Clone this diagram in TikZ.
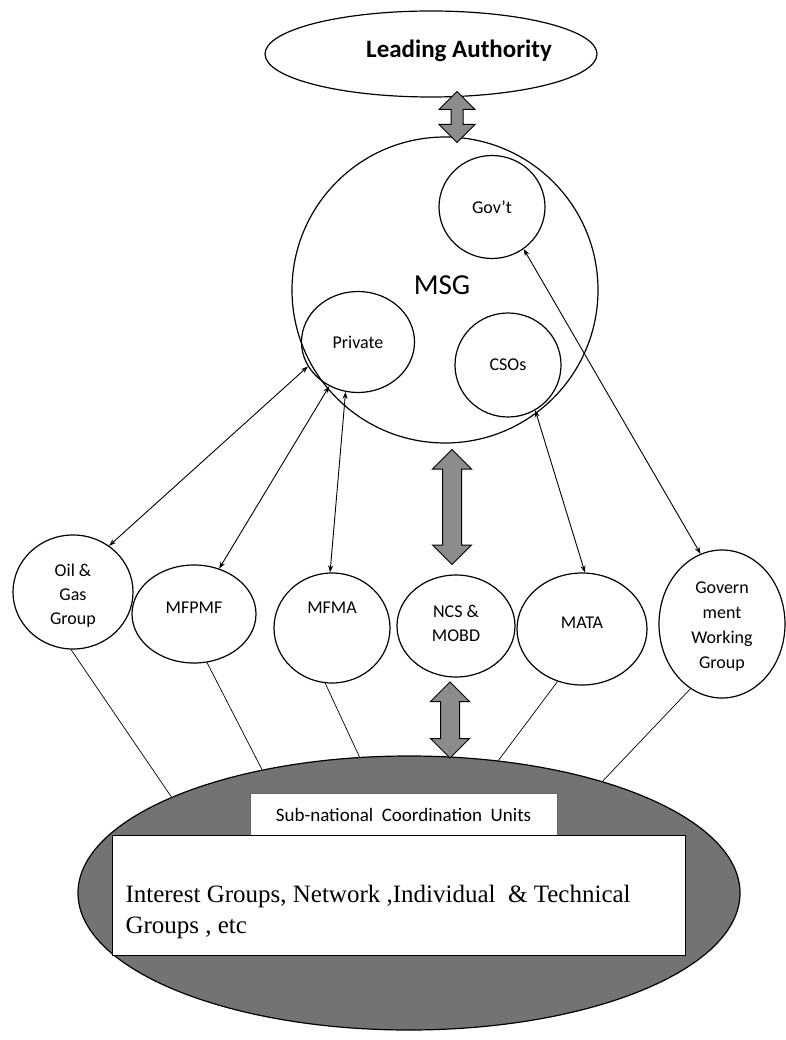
\documentclass[tikz,border=0pt]{standalone}
\usepackage{fontspec}
\setmainfont{Carlito}
\newfontfamily\bodyserif{Liberation Serif}
\usetikzlibrary{shapes.geometric,shapes.arrows,arrows.meta}

\begin{document}
\begin{tikzpicture}[x=1pt,y=-1pt,
    unit/.style={draw,ellipse,line width=1.2pt,inner sep=0pt},
    lbl/.style={font=\fontsize{18}{24}\selectfont,align=center},
    link/.style={{Stealth[length=7pt,width=5pt]}-{Stealth[length=7pt,width=5pt]},line width=0.9pt},
    feed/.style={line width=0.7pt},
    bigarrow/.style={double arrow,draw,line width=1pt,fill=black!45,rotate=90,inner sep=9pt,double arrow head extend=10pt}]
  \useasboundingbox (0,0) rectangle (786,1040);

  % leading authority
  \node[unit,minimum width=332,minimum height=86,label={[font=\bfseries\fontsize{25}{30}\selectfont,xshift=28pt,yshift=3pt]center:Leading Authority}] (lead) at (431,54) {};

  % MSG and its members
  \node[unit,circle,minimum size=306] (msg) at (445,290) {};
  \node[font=\fontsize{29}{33}\selectfont] (msgt) at (442,285) {MSG};
  \node[unit,minimum width=106,minimum height=103,lbl] (gov) at (492,207) {Gov't};
  \node[unit,minimum width=113,minimum height=101,lbl] (priv) at (358,342) {Private};
  \node[unit,minimum width=106,minimum height=104,lbl] (cso) at (508,365) {CSOs};

  % groups
  \node[unit,minimum width=120,minimum height=114,label={[lbl,yshift=-4pt]center:Oil \&\\Gas\\Group}] (oil) at (73,592) {};
  \node[unit,minimum width=124,minimum height=98,label={[lbl,yshift=6pt]center:MFPMF}] (mfpmf) at (194,614) {};
  \node[unit,minimum width=116,minimum height=110,label={[lbl,yshift=20pt]center:MFMA}] (mfma) at (332,628) {};
  \node[unit,minimum width=118,minimum height=102,label={[lbl,yshift=3pt]center:NCS \&\\MOBD}] (ncs) at (456,626) {};
  \node[unit,minimum width=130,minimum height=112,label={[lbl,yshift=6pt]center:MATA}] (mata) at (582,629) {};
  \node[unit,minimum width=126,minimum height=148,label={[lbl,font=\fontsize{18}{25}\selectfont,yshift=-3pt]center:Govern\\ment\\Working\\Group}] (gwg) at (722,624) {};

  % base
  \node[unit,fill=black!55,minimum width=662,minimum height=274] (base) at (409,893) {};
  \node[draw=black!60,fill=white,minimum width=307,minimum height=43,font=\fontsize{19}{22}\selectfont] (sub) at (403.5,814.5) {Sub-national\ \ Coordination\ \ Units};
  \node[draw,line width=1pt,fill=white,minimum width=573,minimum height=120] (igbox) at (398.5,895) {};
  \node[anchor=west,align=left,font=\bodyserif\fontsize{25}{31}\selectfont] (igtext) at (122,912) {Interest Groups, Network ,Individual \ \& Technical\\Groups , etc};

  % thick arrows
  \node[bigarrow,inner sep=5.5pt,double arrow head extend=12pt,minimum height=51] (a1) at (457,117) {};
  \node[bigarrow,minimum height=115] (a2) at (452,507) {};
  \node[bigarrow,minimum height=76] (a3) at (450,720) {};

  % links
  \draw[link] (priv.206) -- (oil.52);
  \draw[link] (priv.237) -- (mfpmf.61);
  \draw[link] (priv.256) -- (mfma.92);
  \draw[link] (cso.301) -- (mata.87);
  \draw[link] (gov.307) -- (gwg.107);

  \draw[feed] (oil.268) -- (base.158);
  \draw[feed] (mfpmf.285) -- (base.140);
  \draw[feed] (mfma.263) -- (base.110);
  \draw[feed] (mata.245) -- (base.56);
  \draw[feed] (gwg.244) -- (base.30);
\end{tikzpicture}
\end{document}
